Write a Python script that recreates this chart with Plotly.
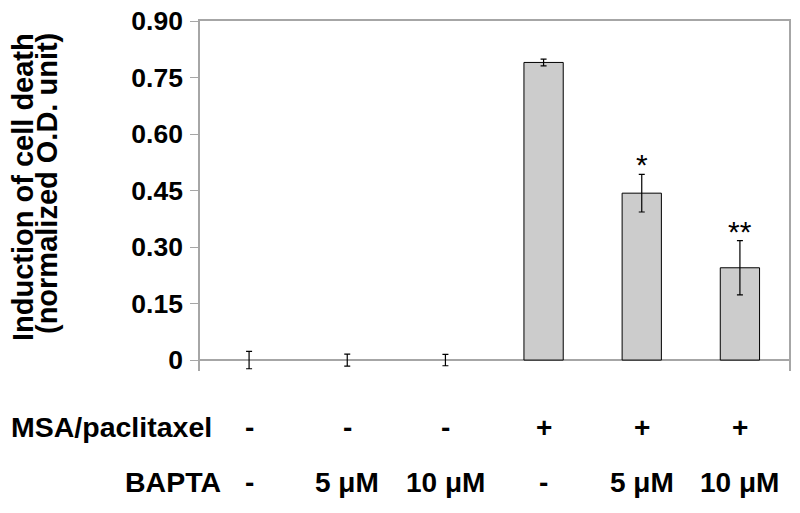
import plotly.graph_objects as go

categories = ["c1", "c2", "c3", "c4", "c5", "c6"]
values = [0.0, 0.0, 0.0, 0.790, 0.443, 0.245]
errors = [0.023, 0.016, 0.015, 0.009, 0.050, 0.072]
significance = ["", "", "", "", "*", "**"]
msa_labels = ["-", "-", "-", "+", "+", "+"]
bapta_labels = ["-", "5 \u03bcM", "10 \u03bcM", "-", "5 \u03bcM", "10 \u03bcM"]
tick_vals = [0, 0.15, 0.30, 0.45, 0.60, 0.75, 0.90]
tick_text = ["0", "0.15", "0.30", "0.45", "0.60", "0.75", "0.90"]

FONT = "Arial, Liberation Sans, sans-serif"
AXIS_GRAY = "#a6a6a6"

L, R, T, B = 200, 11, 21, 142
PW, PH = 800 - L - R, 513 - T - B


def px_x(p):
    return (p - L) / PW


def px_y(p):
    return (513 - B - p) / PH


fig = go.Figure()
fig.add_trace(go.Bar(
    x=categories, y=values, width=0.4,
    marker=dict(color="#cccccc",
                line=dict(color="black", width=[1 if v > 0 else 0 for v in values])),
    error_y=dict(type="data", array=errors, visible=True, color="black",
                 thickness=1.2, width=3),
))

annotations = []
for c, v, e, s in zip(categories, values, errors, significance):
    if s:
        annotations.append(dict(x=c, y=v + e, xref="x", yref="y", text=s,
                                showarrow=False, yanchor="bottom", yshift=-9,
                                font=dict(family=FONT, size=30, color="black")))
for c, m, b in zip(categories, msa_labels, bapta_labels):
    annotations.append(dict(x=c, y=px_y(427), xref="x", yref="paper", text="<b>%s</b>" % m,
                            xanchor="center", yanchor="middle", showarrow=False,
                            font=dict(family=FONT, size=28, color="black")))
    annotations.append(dict(x=c, y=px_y(482), xref="x", yref="paper", text="<b>%s</b>" % b,
                            xanchor="center", yanchor="middle", showarrow=False,
                            font=dict(family=FONT, size=28, color="black")))
annotations.append(dict(x=px_x(9), y=px_y(427), xref="paper", yref="paper",
                        text="<b>MSA/paclitaxel</b>", xanchor="left", yanchor="middle",
                        showarrow=False, font=dict(family=FONT, size=28.5, color="black")))
annotations.append(dict(x=px_x(223), y=px_y(482), xref="paper", yref="paper",
                        text="<b>BAPTA</b>", xanchor="right", yanchor="middle",
                        showarrow=False, font=dict(family=FONT, size=28.5, color="black")))
annotations.append(dict(x=px_x(23), y=px_y(187), xref="paper", yref="paper",
                        text="<b>Induction of cell death</b>", textangle=-90,
                        xanchor="center", yanchor="middle", showarrow=False,
                        font=dict(family=FONT, size=29, color="black")))
annotations.append(dict(x=px_x(47), y=px_y(184), xref="paper", yref="paper",
                        text="<b>(normalized O.D. unit)</b>", textangle=-90,
                        xanchor="center", yanchor="middle", showarrow=False,
                        font=dict(family=FONT, size=29, color="black")))

fig.update_layout(
    width=800, height=513,
    margin=dict(l=L, r=R, t=T, b=B, autoexpand=False),
    paper_bgcolor="white", plot_bgcolor="white",
    showlegend=False,
    annotations=annotations,
    xaxis=dict(side="top", showline=True, linecolor=AXIS_GRAY, linewidth=1.5,
               showticklabels=False, ticks="", showgrid=False, zeroline=False,
               automargin=False),
    yaxis=dict(range=[-0.029, 0.9], tickvals=tick_vals, ticktext=tick_text,
               showline=True, mirror=True, linecolor=AXIS_GRAY, linewidth=1.5,
               ticks="outside", ticklen=8, tickcolor=AXIS_GRAY, tickwidth=1,
               ticklabelstandoff=2, automargin=False,
               tickfont=dict(family=FONT, size=26.5, color="black", weight="bold"),
               showgrid=False, zeroline=True, zerolinecolor=AXIS_GRAY, zerolinewidth=1.5),
)

fig.write_html("out.html", config={"displayModeBar": False},
               post_script="document.body.style.margin='0';")
